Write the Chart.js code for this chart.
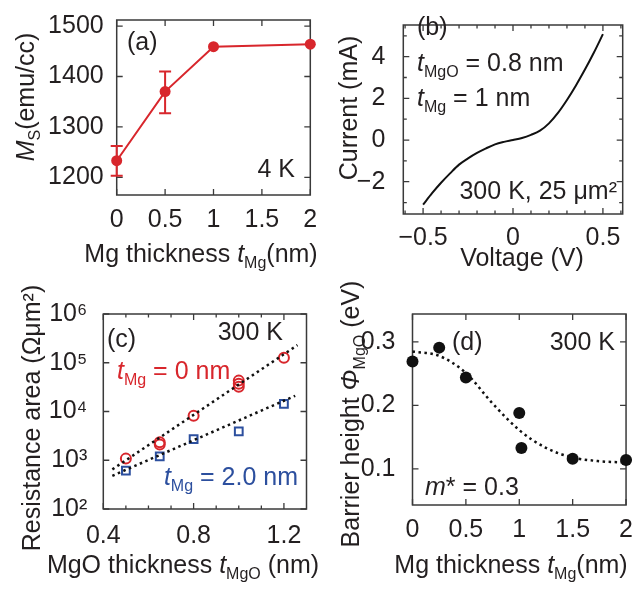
<!DOCTYPE html>
<html><head><meta charset="utf-8">
<script src="https://cdn.jsdelivr.net/npm/chart.js@4.4.0/dist/chart.umd.min.js"></script>
<style>
html,body{margin:0;padding:0;background:#fff;}
#wrap{position:relative;width:635px;height:594px;overflow:hidden;}
canvas{position:absolute;left:0;top:0;}
</style>
</head><body><div id="wrap">
<canvas id="ca" width="635" height="594"></canvas>
<canvas id="cb" width="635" height="594"></canvas>
<canvas id="cc" width="635" height="594"></canvas>
<canvas id="cd" width="635" height="594"></canvas>
</div>
<script>
// ---------- data: panel (a) ----------
const aThickness = [0, 0.5, 1, 2];
const aMs = [1233, 1370, 1459, 1464];
const aErrLow = [1203, 1327, null, null];
const aErrHigh = [1262, 1410, null, null];
const aXTicks = [0, 0.5, 1, 1.5, 2];
const aXLabels = ['0', '0.5', '1', '1.5', '2'];
const aYTicks = [1200, 1300, 1400, 1500];
const aYLabels = ['1200', '1300', '1400', '1500'];

// ---------- data: panel (b) ----------
const bVoltage = [-0.5,-0.45,-0.4,-0.35,-0.3,-0.25,-0.2,-0.15,-0.1,-0.05,0,0.05,0.1,0.15,0.2,0.25,0.3,0.35,0.4,0.45,0.5];
const bCurrent = [-3.10,-2.55,-2.05,-1.60,-1.18,-0.88,-0.62,-0.40,-0.21,-0.09,0.00,0.10,0.25,0.45,0.80,1.30,1.92,2.62,3.38,4.20,5.08];
const bXTicks = [-0.5, 0, 0.5];
const bXLabels = ['\u22120.5', '0', '0.5'];
const bXMinor = [-0.6,-0.4,-0.3,-0.2,-0.1,0.1,0.2,0.3,0.4,0.6];
const bYTicks = [-2, 0, 2, 4];
const bYLabels = ['\u22122', '0', '2', '4'];
const bYMinor = [-3, -1, 1, 3, 5];

// ---------- data: panel (c) ----------
const cThick0 = [0.5, 0.65, 0.65, 0.8, 1.0, 1.0, 1.0, 1.2];
const cRA0 = [1080, 2100, 2350, 8200, 32000, 37000, 43000, 127000];
const cThick2 = [0.5, 0.65, 0.8, 1.0, 1.2];
const cRA2 = [610, 1200, 2700, 3900, 14400];
const cFit0X = [0.44, 1.26];
const cFit0Y = [650, 230000];
const cFit2X = [0.44, 1.25];
const cFit2Y = [480, 21000];
const cXTicks = [0.4, 0.8, 1.2];
const cXLabels = ['0.4', '0.8', '1.2'];
const cXMinor = [0.5, 0.6, 0.7, 0.9, 1.0, 1.1];
const cYTicks = [1e2, 1e3, 1e4, 1e5, 1e6];
const cYLabels = ['10\u00b2', '10\u00b3', '10\u2074', '10\u2075', '10\u2076'];

// ---------- data: panel (d) ----------
const dThickness = [0, 0.25, 0.5, 1.0, 1.02, 1.5, 2.0];
const dBarrier = [0.269, 0.291, 0.244, 0.188, 0.133, 0.116, 0.114];
const dFitX = [0, 0.25, 0.5, 0.75, 1.0, 1.25, 1.5, 1.75, 2.0];
const dFitY = [0.285, 0.278, 0.251, 0.203, 0.161, 0.133, 0.118, 0.112, 0.110];
const dXTicks = [0, 0.5, 1, 1.5, 2];
const dXLabels = ['0', '0.5', '1', '1.5', '2'];
const dYTicks = [0.1, 0.2, 0.3];
const dYLabels = ['0.1', '0.2', '0.3'];

// ---------- styling / helpers ----------
const W = 635, H = 594, YW = 80, XH = 60;
const FONT = '"Liberation Sans", Arial, Helvetica, sans-serif';
const INK = '#231f20';
const RED = '#d8262c';
const BLUE = '#2c4f9e';
const FS = 25;

const pts = (xs, ys) => xs.map((x, i) => ({x: x, y: ys[i]}));

function segFont(s, fs) {
  const size = (s.sub || s.sup) ? fs * 0.64 : fs;
  return (s.i ? 'italic ' : '') + size + 'px ' + FONT;
}
function drawRich(ctx, it) {
  const fs = it.fs || FS;
  ctx.save();
  ctx.translate(it.x, it.y);
  if (it.rot) ctx.rotate(it.rot);
  let w = 0;
  for (const s of it.segs) { ctx.font = segFont(s, fs); w += ctx.measureText(s.t).width; }
  let cx = it.align === 'center' ? -w / 2 : it.align === 'right' ? -w : 0;
  ctx.fillStyle = it.color || INK;
  ctx.textBaseline = 'middle';
  ctx.textAlign = 'left';
  for (const s of it.segs) {
    ctx.font = segFont(s, fs);
    const dy = s.sub ? fs * 0.36 : s.sup ? -fs * 0.36 : 0;
    ctx.fillText(s.t, cx, dy);
    cx += ctx.measureText(s.t).width;
  }
  ctx.restore();
}

const framePlugin = {
  id: 'frameTicks',
  beforeDatasetsDraw(chart, args, o) {
    const {ctx, chartArea: a, scales} = chart;
    const x = scales.x, y = scales.y;
    ctx.save();
    ctx.strokeStyle = '#3a3a3a';
    ctx.lineWidth = 1.5;
    ctx.strokeRect(a.left, a.top, a.right - a.left, a.bottom - a.top);
    ctx.lineWidth = 1.3;
    const xt = (vals, len) => (vals || []).forEach(v => {
      const p = x.getPixelForValue(v);
      ctx.beginPath();
      ctx.moveTo(p, a.bottom); ctx.lineTo(p, a.bottom - len);
      ctx.moveTo(p, a.top); ctx.lineTo(p, a.top + len);
      ctx.stroke();
    });
    const yt = (vals, len) => (vals || []).forEach(v => {
      const p = y.getPixelForValue(v);
      ctx.beginPath();
      ctx.moveTo(a.left, p); ctx.lineTo(a.left + len, p);
      ctx.moveTo(a.right, p); ctx.lineTo(a.right - len, p);
      ctx.stroke();
    });
    xt(o.xMajor, 6); xt(o.xMinor, 3.5);
    yt(o.yMajor, 6); yt(o.yMinor, 3.5);
    // error bars
    if (o.err) {
      ctx.strokeStyle = o.err.color; ctx.lineWidth = 2;
      o.err.x.forEach((xv, i) => {
        if (o.err.lo[i] == null) return;
        const px = x.getPixelForValue(xv);
        const p1 = y.getPixelForValue(o.err.lo[i]);
        const p2 = y.getPixelForValue(o.err.hi[i]);
        ctx.beginPath();
        ctx.moveTo(px, p1); ctx.lineTo(px, p2);
        ctx.moveTo(px - 6, p1); ctx.lineTo(px + 6, p1);
        ctx.moveTo(px - 6, p2); ctx.lineTo(px + 6, p2);
        ctx.stroke();
      });
    }
    ctx.restore();
  }
};
const textPlugin = {
  id: 'richTexts',
  afterDraw(chart, args, o) {
    (o.items || []).forEach(it => drawRich(chart.ctx, it));
  }
};

function axis(type, min, max, ticks, labels, pad, isX) {
  return {
    type: type, min: min, max: max,
    afterBuildTicks: s => { s.ticks = ticks.map(v => ({value: v})); },
    afterFit: s => { if (isX) s.height = XH; else s.width = YW; },
    ticks: {
      callback: (v, i) => labels[i],
      font: {family: FONT, size: FS},
      color: INK, padding: pad, maxRotation: 0, autoSkip: false, includeBounds: false
    },
    grid: {display: false},
    border: {display: false}
  };
}

function makeChart(id, area, datasets, xAx, yAx, frame, texts) {
  return new Chart(document.getElementById(id), {
    type: 'scatter',
    data: {datasets: datasets},
    options: {
      responsive: false, animation: false, devicePixelRatio: 1,
      events: [],
      layout: {padding: {left: area.l - YW, right: W - area.r, top: area.t, bottom: H - area.b - XH}},
      scales: {x: xAx, y: yAx},
      plugins: {legend: {display: false}, tooltip: {enabled: false}, frameTicks: frame, richTexts: {items: texts}}
    },
    plugins: [framePlugin, textPlugin]
  });
}

const T = (t) => ({t: t});
const I = (t) => ({t: t, i: true});
const SUB = (t) => ({t: t, sub: true});
const ROT = -Math.PI / 2;

// ---------- panel (a) ----------
makeChart('ca', {l: 116.7, r: 310.3, t: 19, b: 195},
  [{
    data: pts(aThickness, aMs), showLine: true, borderColor: RED, backgroundColor: RED,
    borderWidth: 2, pointRadius: 5.5, pointBorderWidth: 0, clip: false
  }],
  axis('linear', 0, 2, aXTicks, aXLabels, 2, true),
  axis('linear', 1165, 1512, aYTicks, aYLabels, 5, false),
  {xMajor: aXTicks, yMajor: aYTicks, err: {x: aThickness, lo: aErrLow, hi: aErrHigh, color: RED}},
  [
    {segs: [T('(a)')], x: 127, y: 43},
    {segs: [T('4 K')], x: 295, y: 170, align: 'right'},
    {segs: [T('Mg thickness '), I('t'), SUB('Mg'), T('(nm)')], x: 201, y: 255, align: 'center'},
    {segs: [I('M'), SUB('S'), T('(emu/cc)')], x: 27, y: 97, align: 'center', rot: ROT}
  ]);

// ---------- panel (b) ----------
makeChart('cb', {l: 403.3, r: 622.7, t: 5, b: 214},
  [{
    data: pts(bVoltage, bCurrent), showLine: true, borderColor: '#111', borderWidth: 2,
    pointRadius: 0, cubicInterpolationMode: 'monotone', clip: false
  }],
  axis('linear', -0.61, 0.61, bXTicks, bXLabels, 1, true),
  axis('linear', -3.55, 5.52, bYTicks, bYLabels, 10, false),
  {xMajor: bXTicks, xMinor: bXMinor, yMajor: bYTicks, yMinor: bYMinor},
  [
    {segs: [T('(b)')], x: 417, y: 28},
    {segs: [I('t'), SUB('MgO'), T(' = 0.8 nm')], x: 417, y: 64},
    {segs: [I('t'), SUB('Mg'), T(' = 1 nm')], x: 417, y: 99},
    {segs: [T('300 K, 25 \u03bcm\u00b2')], x: 617, y: 192, align: 'right'},
    {segs: [T('Voltage (V)')], x: 522, y: 259, align: 'center'},
    {segs: [T('Current (mA)')], x: 350, y: 108, align: 'center', rot: ROT}
  ]);

// ---------- panel (c) ----------
makeChart('cc', {l: 103.3, r: 306.5, t: 314, b: 509},
  [
    {data: pts(cFit0X, cFit0Y), showLine: true, borderColor: '#111', borderWidth: 2.5,
     borderDash: [2.5, 3.5], pointRadius: 0, clip: false},
    {data: pts(cFit2X, cFit2Y), showLine: true, borderColor: '#111', borderWidth: 2.5,
     borderDash: [2.5, 3.5], pointRadius: 0, clip: false},
    {data: pts(cThick0, cRA0), pointStyle: 'circle', pointRadius: 5, borderColor: RED,
     backgroundColor: 'rgba(0,0,0,0)', pointBorderWidth: 2, clip: false},
    {data: pts(cThick2, cRA2), pointStyle: 'rect', pointRadius: 5.5, borderColor: BLUE,
     backgroundColor: 'rgba(0,0,0,0)', pointBorderWidth: 2, clip: false}
  ],
  axis('linear', 0.4, 1.3, cXTicks, cXLabels, 4, true),
  axis('logarithmic', 100, 1e6, cYTicks, cYLabels, 8, false),
  {xMajor: cXTicks, xMinor: cXMinor, yMajor: cYTicks},
  [
    {segs: [T('(c)')], x: 107, y: 340},
    {segs: [T('300 K')], x: 283, y: 333, align: 'right'},
    {segs: [I('t'), SUB('Mg'), T(' = 0 nm')], x: 117, y: 372, color: RED},
    {segs: [I('t'), SUB('Mg'), T(' = 2.0 nm')], x: 298, y: 478, align: 'right', color: BLUE},
    {segs: [T('MgO thickness '), I('t'), SUB('MgO'), T(' (nm)')], x: 183, y: 566, align: 'center'},
    {segs: [T('Resistance area (\u03a9\u03bcm\u00b2)')], x: 33, y: 418, align: 'center', rot: ROT}
  ]);

// ---------- panel (d) ----------
makeChart('cd', {l: 412.5, r: 627, t: 314, b: 505},
  [
    {data: pts(dFitX, dFitY), showLine: true, borderColor: '#111', borderWidth: 2.5,
     borderDash: [2.5, 3.5], pointRadius: 0, cubicInterpolationMode: 'monotone', clip: false},
    {data: pts(dThickness, dBarrier), pointStyle: 'circle', pointRadius: 6, backgroundColor: '#111',
     borderColor: '#111', pointBorderWidth: 0, clip: false}
  ],
  axis('linear', 0, 2, dXTicks, dXLabels, 2, true),
  axis('linear', 0.043, 0.344, dYTicks, dYLabels, 9, false),
  {xMajor: dXTicks, yMajor: dYTicks},
  [
    {segs: [T('(d)')], x: 452, y: 343},
    {segs: [T('300 K')], x: 615, y: 343, align: 'right'},
    {segs: [I('m'), T('* = 0.3')], x: 425, y: 488},
    {segs: [T('Mg thickness '), I('t'), SUB('Mg'), T('(nm)')], x: 511, y: 566, align: 'center'},
    {segs: [T('Barrier height '), I('\u03a6'), SUB('MgO'), T(' (eV)')], x: 352, y: 414, align: 'center', rot: ROT}
  ]);
</script>
</body></html>
